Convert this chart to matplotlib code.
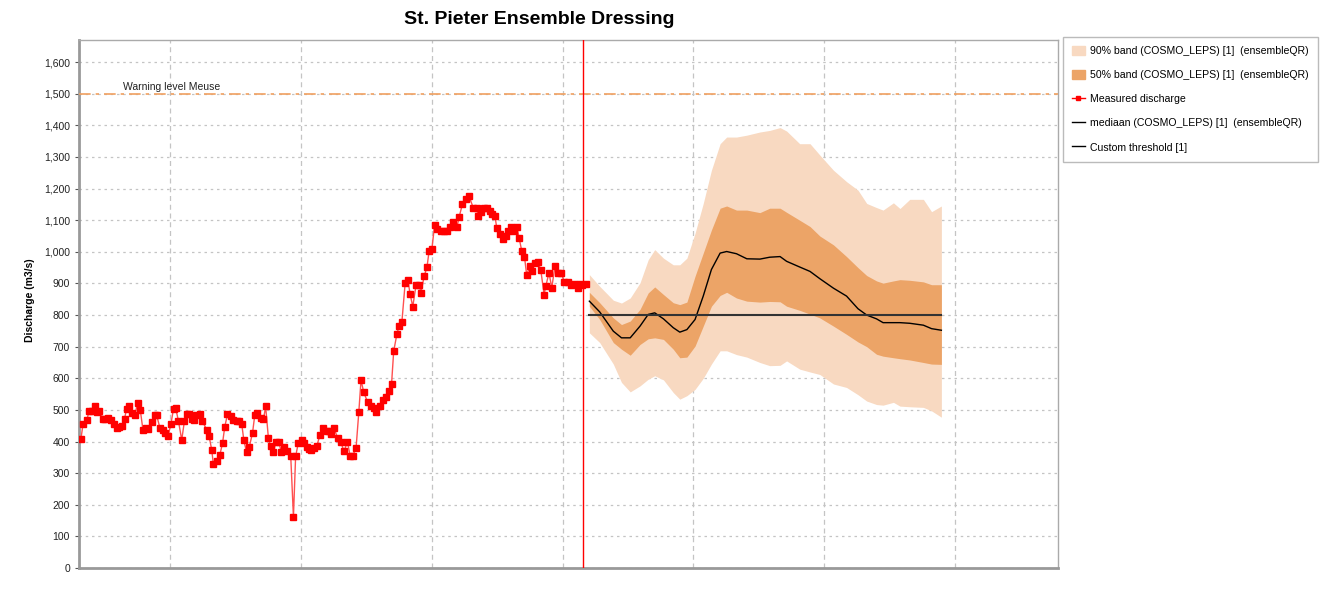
import numpy as np
import matplotlib
matplotlib.use("Agg")
import matplotlib.pyplot as plt
from matplotlib.patches import Patch
from matplotlib.lines import Line2D
from matplotlib.ticker import FuncFormatter

plt.rcParams['font.family'] = ['Liberation Sans', 'DejaVu Sans']

# time axis in hours, 0 at first vertical gridline (gridlines every 24 h)
measured_hours = [
    -16.4, -16.0, -15.3, -14.9, -14.4, -13.9, -13.4, -13.0, -12.3, -11.9, -11.4, -10.9,
    -10.3, -9.8, -9.4, -8.9, -8.4, -8.0, -7.5, -7.0, -6.5, -6.0, -5.5, -5.0, -4.5, -4.0,
    -3.4, -2.8, -2.5, -1.9, -1.4, -1.0, -0.4, 0.1, 0.6, 1.0, 1.5, 2.1, 2.6, 3.0, 3.5, 3.9,
    4.4, 4.8, 5.5, 5.9,
    6.7, 7.1, 7.6, 7.9, 8.5, 9.1, 9.6, 10.0, 10.5, 11.1, 11.6, 12.2, 12.7, 13.1, 13.5, 14.0,
    14.5, 15.1, 15.5, 16.0, 16.6, 17.1, 17.5, 18.0, 18.4, 18.9, 19.4, 19.9, 20.4, 20.9, 21.5,
    22.1, 22.6, 23.0, 23.5, 24.1, 24.6, 25.0, 25.5, 25.9, 26.4, 26.9, 27.5, 28.1, 28.7, 29.2,
    29.5, 30.0, 30.7, 31.3, 31.9, 32.5, 33.0, 33.5, 34.1, 34.6, 35.0, 35.5, 36.2, 36.8, 37.3,
    37.7, 38.4, 39.0, 39.6, 40.1, 40.6, 41.0, 41.6, 42.0, 42.5, 43.1, 43.6, 44.0, 44.5, 45.1,
    45.7, 46.0, 46.6, 47.1, 47.5, 48.0, 48.5, 49.0, 49.6, 50.2,
    50.7, 51.3, 51.8, 52.6, 53.0, 53.6, 54.2, 54.8, 55.6, 56.2, 56.5, 57.1, 57.6, 58.2, 58.7,
    59.1, 59.6, 59.9, 60.5, 61.1, 61.6, 62.0, 62.6, 63.1, 63.6, 64.0, 64.5, 65.0, 65.4, 66.0,
    66.4, 66.9, 67.5, 68.0, 68.6, 68.9, 69.5, 70.0, 70.6, 71.1, 71.7, 72.3, 72.9, 73.5, 74.1,
    74.8, 75.2, 75.6, 76.3,
]
measured_q = [
    408, 456, 468, 497, 497, 513, 494, 497, 472, 472, 474, 467, 457, 443, 445, 448, 472, 504,
    513, 491, 484, 521, 499, 435, 443, 440, 462, 483, 483, 443, 438, 427, 418, 454, 504, 505,
    465, 405, 465, 486, 486, 472, 468, 483, 486, 465,
    436, 419, 374, 330, 337, 358, 396, 447, 486, 481, 468, 465, 465, 457, 404, 366, 383, 428,
    483, 489, 476, 470, 511, 412, 385, 366, 398, 398, 366, 383, 371, 355, 162, 353, 396, 406,
    394, 383, 377, 372, 380, 387, 422, 444, 434, 434,
    423, 444, 412, 397, 369, 400, 355, 355, 381, 494, 594, 556, 525, 512, 507, 493, 512, 530,
    542, 559, 581, 686, 741, 766, 778, 901, 911, 867, 827, 895, 895, 871, 924, 951, 1003, 1008,
    1084, 1071, 1066, 1066,
    1067, 1078, 1094, 1078, 1110, 1150, 1168, 1177, 1139, 1139, 1112, 1126, 1138, 1138, 1129,
    1120, 1112, 1076, 1056, 1040, 1051, 1067, 1078, 1067, 1078, 1044, 1003, 984, 927, 956,
    940, 964, 968, 941, 865, 891, 934, 886, 955, 934, 934, 905, 905, 895, 897, 886, 897, 894,
    899,
]

forecast_hours = [
    76.9, 78.8, 81.3, 82.8, 84.4, 86.2, 87.7, 88.9, 90.5, 92.3, 93.5, 94.8, 96.3, 97.8, 99.3,
    100.9, 102.1, 103.9, 105.8, 108.2, 110.0, 111.9, 113.1, 115.5, 117.4, 119.2, 121.7, 124.1,
    126.2, 127.8, 129.6, 130.8, 132.7, 133.9, 135.7, 138.2, 139.7, 141.5,
]
q95 = [928, 891, 847, 838, 854, 902, 975, 1007, 980, 959, 959, 980, 1059, 1153, 1258, 1342,
       1363, 1363, 1369, 1379, 1384, 1393, 1382, 1342, 1342, 1306, 1258, 1222, 1195, 1153,
       1140, 1132, 1155, 1137, 1166, 1166, 1127, 1145]
q75 = [872, 839, 791, 770, 781, 818, 870, 889, 865, 839, 833, 841, 923, 996, 1069, 1138,
       1145, 1132, 1132, 1124, 1138, 1138, 1125, 1100, 1080, 1050, 1022, 985, 950, 925,
       908, 901, 908, 912, 910, 905, 896, 896]
q50 = [844, 810, 749, 728, 728, 765, 802, 807, 788, 760, 746, 754, 786, 860, 944, 996,
       1001, 994, 978, 977, 983, 985, 970, 952, 938, 915, 885, 860, 820, 800,
       788, 776, 776, 776, 774, 768, 757, 752]
q25 = [828, 786, 713, 692, 673, 707, 725, 728, 723, 692, 665, 667, 702, 765, 828, 862,
       872, 854, 844, 841, 843, 842, 828, 815, 803, 791, 765, 739, 715, 700,
       676, 670, 665, 662, 658, 650, 645, 644]
q05 = [744, 713, 645, 587, 557, 576, 597, 608, 595, 555, 534, 545, 565, 600, 645, 687,
       687, 675, 667, 650, 640, 641, 655, 629, 620, 612, 582, 571, 548, 528,
       517, 515, 524, 512, 510, 508, 497, 477]

warning_level = 1500
custom_threshold = 800
forecast_start = 75.8
grid_hours = [0, 24, 48, 72, 96, 120, 144]

light_band = '#F8D9C1'
dark_band = '#ECA467'

fig = plt.figure(figsize=(13.24, 5.93), dpi=100)
ax = fig.add_axes([79 / 1324, 1 - 568 / 593, (1058 - 79) / 1324, (568 - 40) / 593])

ax.fill_between(forecast_hours, q05, q95, color=light_band, lw=0, zorder=2)
ax.fill_between(forecast_hours, q25, q75, color=dark_band, lw=0, zorder=3)
ax.plot(forecast_hours, q50, color='black', lw=1, zorder=4)
ax.plot([forecast_hours[0], forecast_hours[-1]], [custom_threshold] * 2,
        color='#333333', lw=1.5, zorder=4)

ax.plot(measured_hours, measured_q, color='#FF5050', lw=1, zorder=5)
ax.plot(measured_hours, measured_q, ls='none', marker='s', ms=4.8,
        color='#FF0000', zorder=6)

ax.axhline(warning_level, color='#F0A060', lw=1.2, dashes=(7, 3, 2, 3), zorder=4)
ax.text(-8.7, warning_level + 6, 'Warning level Meuse', fontsize=7.5, color='#222222',
        va='bottom', ha='left')
ax.axvline(forecast_start, color='#FF0000', lw=1, zorder=7)

ax.set_xlim(-16.75, 162.9)
ax.set_ylim(0, 1670)
ax.set_xticks(grid_hours)
ax.set_xticklabels([])
ax.tick_params(axis='x', length=0)
ax.set_yticks(range(0, 1700, 100))
ax.yaxis.set_major_formatter(FuncFormatter(lambda v, p: f'{int(v):,}'))
ax.tick_params(axis='y', labelsize=7.5, length=3, color='#555555', labelcolor='#222222')
ax.grid(axis='y', color='#C4C4C4', ls=(0, (2, 3)), lw=0.9, zorder=0)
ax.grid(axis='x', color='#C4C4C4', ls=(0, (4, 3)), lw=0.9, zorder=0)
ax.set_axisbelow(True)
for side in ['top', 'right']:
    ax.spines[side].set_color('#AAAAAA')
    ax.spines[side].set_linewidth(1)
for side in ['left', 'bottom']:
    ax.spines[side].set_color('#999999')
    ax.spines[side].set_linewidth(2)

fig.text(539 / 1324, 1 - 20 / 593, 'St. Pieter Ensemble Dressing', fontsize=14,
         fontweight='bold', ha='center', va='center')
fig.text(30 / 1324, 1 - 300 / 593, 'Discharge (m3/s)', fontsize=7.5, fontweight='bold',
         rotation=90, ha='center', va='center')

handles = [
    Patch(color=light_band),
    Patch(color=dark_band),
    Line2D([], [], color='#FF0000', marker='s', ms=3.5, lw=1),
    Line2D([], [], color='black', lw=1),
    Line2D([], [], color='black', lw=1),
]
labels = [
    '90% band (COSMO_LEPS) [1]  (ensembleQR)',
    '50% band (COSMO_LEPS) [1]  (ensembleQR)',
    'Measured discharge',
    'mediaan (COSMO_LEPS) [1]  (ensembleQR)',
    'Custom threshold [1]',
]
leg = fig.legend(handles, labels, loc='upper left', bbox_to_anchor=(1063 / 1324, 1 - 37 / 593),
                 fontsize=7.6, frameon=True, fancybox=False, edgecolor='#AAAAAA',
                 handlelength=1.2, handleheight=1.0, handletextpad=0.5, labelspacing=1.3,
                 borderpad=0.85, borderaxespad=0)
leg.get_frame().set_linewidth(1)

fig.savefig('out.png', dpi=100, facecolor='white')
